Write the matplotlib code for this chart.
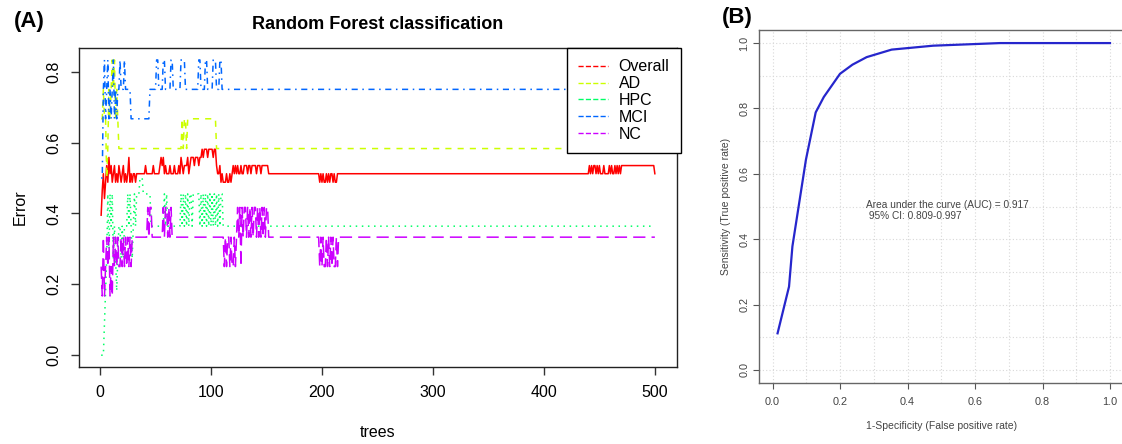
import numpy as np
import matplotlib
matplotlib.use("Agg")
import matplotlib.pyplot as plt
from matplotlib.lines import Line2D

plt.rcParams['font.family'] = ['Liberation Sans', 'DejaVu Sans']

# ---- (A) OOB error per number of trees, run-length encoded as (error, n_trees)
overall_runs = [
    (0.395, 1), (0.465, 1), (0.512, 1), (0.442, 1), (0.488, 1), (0.535, 1), (0.488, 1),
    (0.558, 1), (0.512, 1), (0.535, 1), (0.488, 1), (0.512, 1), (0.535, 1), (0.488, 1),
    (0.512, 1), (0.488, 1), (0.535, 1), (0.512, 1), (0.488, 1), (0.512, 1), (0.535, 1),
    (0.488, 1), (0.512, 1), (0.488, 1), (0.512, 1), (0.558, 1), (0.488, 1), (0.512, 1),
    (0.488, 1), (0.512, 2), (0.488, 1), (0.512, 8), (0.535, 1), (0.512, 6), (0.535, 1),
    (0.512, 5), (0.535, 1), (0.558, 1), (0.535, 1), (0.558, 1), (0.512, 1), (0.535, 1),
    (0.512, 3), (0.535, 1), (0.512, 3), (0.535, 1), (0.512, 3), (0.535, 1), (0.512, 1),
    (0.558, 1), (0.535, 1), (0.512, 1), (0.535, 3), (0.558, 1), (0.512, 1), (0.535, 1),
    (0.558, 3), (0.535, 1), (0.558, 3), (0.535, 1), (0.558, 2), (0.581, 1), (0.558, 1),
    (0.581, 3), (0.558, 1), (0.581, 4), (0.558, 1), (0.581, 2), (0.535, 1), (0.512, 2),
    (0.535, 1), (0.488, 1), (0.512, 1), (0.488, 3), (0.512, 1), (0.488, 2), (0.512, 1),
    (0.488, 1), (0.512, 1), (0.535, 1), (0.512, 1), (0.535, 1), (0.512, 1), (0.535, 1),
    (0.512, 2), (0.535, 1), (0.512, 2), (0.535, 3), (0.512, 1), (0.535, 2), (0.512, 1),
    (0.535, 4), (0.512, 1), (0.535, 3), (0.512, 1), (0.535, 6), (0.512, 46), (0.488, 1),
    (0.512, 1), (0.488, 1), (0.512, 1), (0.488, 2), (0.512, 1), (0.488, 1), (0.512, 1),
    (0.488, 1), (0.512, 2), (0.488, 1), (0.512, 1), (0.488, 2), (0.512, 227), (0.535, 1),
    (0.512, 1), (0.535, 1), (0.512, 1), (0.535, 2), (0.512, 1), (0.535, 1), (0.512, 1),
    (0.535, 1), (0.512, 3), (0.535, 1), (0.512, 4), (0.535, 1), (0.512, 1), (0.535, 1),
    (0.512, 2), (0.535, 1), (0.512, 1), (0.535, 1), (0.512, 1), (0.535, 1), (0.512, 1),
    (0.535, 30), (0.512, 1),
]
ad_runs = [
    (0.667, 2), (0.75, 1), (0.667, 2), (0.5, 1), (0.583, 1), (0.75, 1), (0.667, 1),
    (0.75, 1), (0.833, 1), (0.75, 1), (0.833, 1), (0.667, 1), (0.75, 1), (0.667, 1),
    (0.583, 57), (0.667, 1), (0.583, 1), (0.667, 2), (0.583, 1), (0.667, 26), (0.583, 396),
]
hpc_runs = [
    (0.0, 3), (0.091, 1), (0.182, 1), (0.273, 1), (0.455, 1), (0.273, 1), (0.455, 1),
    (0.364, 1), (0.455, 1), (0.273, 1), (0.364, 1), (0.273, 1), (0.182, 1), (0.273, 1),
    (0.364, 2), (0.273, 1), (0.364, 1), (0.273, 1), (0.364, 3), (0.455, 1), (0.364, 1),
    (0.455, 1), (0.364, 1), (0.273, 1), (0.364, 1), (0.455, 1), (0.364, 1), (0.455, 3),
    (0.5, 3), (0.455, 7), (0.364, 12), (0.455, 1), (0.364, 1), (0.455, 1), (0.364, 12),
    (0.455, 1), (0.364, 1), (0.455, 1), (0.364, 1), (0.455, 1), (0.364, 1), (0.455, 1),
    (0.364, 1), (0.455, 2), (0.364, 1), (0.455, 6), (0.364, 1), (0.455, 1), (0.364, 1),
    (0.455, 1), (0.364, 1), (0.455, 1), (0.364, 1), (0.455, 1), (0.364, 1), (0.455, 1),
    (0.364, 1), (0.455, 1), (0.364, 1), (0.455, 1), (0.364, 1), (0.455, 1), (0.364, 1),
    (0.455, 1), (0.364, 1), (0.455, 2), (0.364, 390),
]
mci_runs = [
    (0.5, 2), (0.75, 1), (0.833, 1), (0.667, 1), (0.75, 1), (0.833, 1), (0.667, 1),
    (0.75, 1), (0.667, 1), (0.75, 1), (0.833, 1), (0.667, 1), (0.75, 1), (0.667, 1),
    (0.75, 2), (0.833, 1), (0.75, 3), (0.833, 1), (0.75, 5), (0.667, 17), (0.75, 6),
    (0.833, 2), (0.75, 4), (0.833, 2), (0.75, 5), (0.833, 2), (0.75, 7), (0.833, 4),
    (0.75, 12), (0.833, 2), (0.75, 4), (0.833, 2), (0.75, 5), (0.833, 3), (0.75, 3),
    (0.833, 2), (0.75, 391),
]
nc_runs = [
    (0.25, 1), (0.167, 1), (0.333, 1), (0.167, 1), (0.25, 1), (0.333, 1), (0.25, 1),
    (0.333, 1), (0.167, 1), (0.25, 1), (0.167, 1), (0.333, 1), (0.25, 1), (0.333, 1),
    (0.25, 1), (0.333, 1), (0.25, 2), (0.333, 1), (0.25, 1), (0.333, 1), (0.25, 1),
    (0.333, 1), (0.25, 1), (0.333, 1), (0.25, 1), (0.333, 1), (0.25, 1), (0.333, 14),
    (0.417, 1), (0.333, 1), (0.417, 2), (0.333, 10), (0.417, 1), (0.333, 1), (0.417, 2),
    (0.333, 1), (0.417, 1), (0.333, 1), (0.417, 1), (0.333, 47), (0.25, 1), (0.333, 1),
    (0.25, 1), (0.333, 2), (0.25, 1), (0.333, 1), (0.25, 2), (0.333, 1), (0.25, 1),
    (0.333, 1), (0.417, 1), (0.333, 1), (0.417, 1), (0.25, 1), (0.417, 1), (0.333, 1),
    (0.417, 2), (0.333, 1), (0.417, 1), (0.333, 1), (0.417, 1), (0.333, 1), (0.417, 1),
    (0.333, 1), (0.417, 2), (0.333, 1), (0.417, 1), (0.333, 1), (0.417, 1), (0.333, 1),
    (0.417, 1), (0.333, 1), (0.417, 1), (0.333, 1), (0.417, 2), (0.333, 46), (0.25, 1),
    (0.333, 1), (0.25, 1), (0.333, 1), (0.25, 2), (0.333, 1), (0.25, 1), (0.333, 1),
    (0.25, 1), (0.333, 1), (0.25, 1), (0.333, 1), (0.25, 2), (0.333, 1), (0.25, 1),
    (0.333, 286),
]
series_names = ["Overall", "AD", "HPC", "MCI", "NC"]
series_colors = ["#FF0000", "#CCFF00", "#00FF66", "#0066FF", "#CC00FF"]
series_styles = ["-", (0, (4, 4)), (0, (1, 3)), (0, (1, 3, 4, 3)), (0, (8, 4))]
n_trees = 500

# ---- (B) ROC curve
fpr = [0.015, 0.049, 0.059, 0.099, 0.128, 0.152, 0.200, 0.237, 0.279, 0.353, 0.476, 0.674, 1.0]
tpr = [0.112, 0.255, 0.378, 0.643, 0.788, 0.835, 0.906, 0.934, 0.957, 0.980, 0.992, 1.0, 1.0]
auc_text = "Area under the curve (AUC) = 0.917\n 95% CI: 0.809-0.997"


def expand(runs):
    vals = np.repeat([v for v, n in runs], [n for v, n in runs])
    if len(vals) < n_trees:
        vals = np.concatenate([vals, np.full(n_trees - len(vals), vals[-1])])
    return vals[:n_trees]


fig = plt.figure(figsize=(11.22, 4.44), dpi=100)

# %% panel A
ax1 = fig.add_axes([79 / 1122, 77 / 444, 598 / 1122, 319 / 444])
trees = np.arange(1, n_trees + 1)
for runs, name, col, ls in zip([overall_runs, ad_runs, hpc_runs, mci_runs, nc_runs],
                               series_names, series_colors, series_styles):
    ax1.plot(trees, expand(runs), color=col, ls=ls, lw=1.1, label=name)

ax1.set_xlim(1 - 0.04 * 499, 500 + 0.04 * 499)
ax1.set_ylim(-0.0333, 0.8667)
ax1.set_xticks([0, 100, 200, 300, 400, 500])
ax1.set_yticks([0.0, 0.2, 0.4, 0.6, 0.8])
ax1.set_yticklabels(["0.0", "0.2", "0.4", "0.6", "0.8"], rotation=90, va="center")
ax1.tick_params(labelsize=11.5, length=6, width=1, color="#333333", pad=7)
ax1.set_xlabel("trees", fontsize=11.5, labelpad=18)
ax1.set_ylabel("Error", fontsize=11.5, labelpad=13)
ax1.set_title("Random Forest classification", fontsize=13, fontweight="bold", pad=14)
for s in ax1.spines.values():
    s.set_linewidth(1.0)
    s.set_color("#222222")

handles = [Line2D([], [], color=c, ls="--", lw=1) for c in series_colors]
leg = ax1.legend(handles, series_names, loc="upper right", bbox_to_anchor=(1.006, 1),
                 borderaxespad=0, fancybox=False, edgecolor="black", framealpha=1,
                 fontsize=11.5, labelspacing=0.12, handlelength=1.9, handletextpad=0.65,
                 borderpad=0.7)
leg.get_frame().set_linewidth(1.0)

fig.text(14 / 1122, 1 - 21 / 444, "(A)", fontsize=16, fontweight="bold", va="center")

# %% panel B
ax2 = fig.add_axes([759 / 1122, 61 / 444, 364.5 / 1122, 353 / 444])
ax2.plot(fpr, tpr, color="#2626CC", lw=1.6)
ax2.set_xlim(-0.04, 1.04)
ax2.set_ylim(-0.04, 1.04)
ticks = [0.0, 0.2, 0.4, 0.6, 0.8, 1.0]
ax2.set_xticks(ticks)
ax2.set_yticks(ticks)
ax2.set_xticklabels(["0.0", "0.2", "0.4", "0.6", "0.8", "1.0"])
ax2.set_yticklabels(["0.0", "0.2", "0.4", "0.6", "0.8", "1.0"], rotation=90, va="center")
ax2.set_xticks(np.round(np.arange(0, 1.01, 0.1), 1), minor=True)
ax2.set_yticks(np.round(np.arange(0, 1.01, 0.1), 1), minor=True)
ax2.tick_params(which="minor", length=0)
ax2.tick_params(which="major", labelsize=7.8, length=4, color="#555555", labelcolor="#444444", pad=6)
ax2.tick_params(axis="y", which="major", pad=3)
ax2.grid(which="both", color="#d8d8d8", ls=(0, (1, 2)), lw=0.8)
ax2.set_axisbelow(True)
for s in ax2.spines.values():
    s.set_linewidth(1.0)
    s.set_color("#666666")
ax2.set_xlabel("1-Specificity (False positive rate)", fontsize=7.5, color="#444444", labelpad=10)
ax2.set_ylabel("Sensitivity (True positive rate)", fontsize=7.5, color="#444444", labelpad=6)
ax2.text(0.277, 0.487, auc_text, fontsize=7.3, color="#444444", va="center", ha="left",
         linespacing=1.15)

fig.text(722 / 1122, 1 - 17 / 444, "(B)", fontsize=16, fontweight="bold", va="center")

fig.savefig("out.png", dpi=100)
